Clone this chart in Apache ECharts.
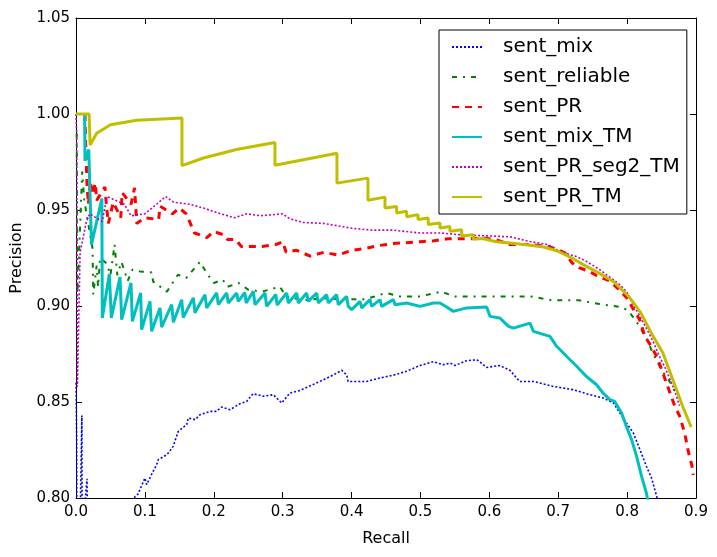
<!DOCTYPE html>
<html>
<head>
<meta charset="utf-8">
<script src="https://cdn.jsdelivr.net/npm/echarts@6/dist/echarts.min.js"></script>
<style>
  html, body { margin: 0; padding: 0; background: #fff; }
  #chart { width: 717px; height: 557px; }
</style>
</head>
<body>
<div id="chart"></div>
<script>
// [recall, precision] pairs
const seriesNames = ['sent_mix', 'sent_reliable', 'sent_PR', 'sent_mix_TM', 'sent_PR_seg2_TM', 'sent_PR_TM']

const sentMix = [
  [0.0, 0.86], [0.001, 0.83], [0.002, 0.70], [0.0085, 0.843], [0.009, 0.78], [0.016, 0.81], [0.017, 0.78],
  [0.05, 0.74], [0.0856, 0.8008], [0.090, 0.802], [0.100, 0.8104], [0.1026, 0.807], [0.112, 0.8139],
  [0.117, 0.8173], [0.1195, 0.82], [0.1316, 0.8225], [0.136, 0.8243], [0.141, 0.8269], [0.1485, 0.8347],
  [0.1607, 0.8382], [0.163, 0.8417], [0.173, 0.8408], [0.180, 0.8434], [0.1945, 0.8451], [0.204, 0.8451],
  [0.2115, 0.8474], [0.2235, 0.846], [0.238, 0.8491], [0.2477, 0.8503], [0.257, 0.8543], [0.272, 0.853],
  [0.2864, 0.8538], [0.2985, 0.8495], [0.3106, 0.8547], [0.325, 0.856], [0.354, 0.8607], [0.373, 0.864],
  [0.386, 0.8665], [0.393, 0.864], [0.395, 0.8607], [0.422, 0.8607], [0.441, 0.8625], [0.461, 0.864],
  [0.480, 0.866], [0.499, 0.869], [0.519, 0.871], [0.533, 0.8694], [0.543, 0.8703], [0.550, 0.869],
  [0.567, 0.8715], [0.582, 0.872], [0.596, 0.868], [0.615, 0.869], [0.630, 0.8665], [0.644, 0.8607],
  [0.664, 0.8607], [0.693, 0.8581], [0.722, 0.8564], [0.746, 0.8538], [0.765, 0.8521], [0.780, 0.8495],
  [0.7895, 0.8443], [0.799, 0.8391], [0.809, 0.8339], [0.8186, 0.8252], [0.828, 0.8165], [0.8355, 0.8104],
  [0.843, 0.8008], [0.848, 0.79]
]

const sentReliable = [
  [0.001, 0.99], [0.002, 0.905], [0.009, 0.97], [0.012, 0.955], [0.024, 0.93], [0.025, 0.906], [0.030, 0.921],
  [0.032, 0.910], [0.035, 0.925], [0.045, 0.922], [0.050, 0.916], [0.056, 0.932], [0.060, 0.916],
  [0.066, 0.923], [0.075, 0.913], [0.082, 0.919], [0.093, 0.918], [0.110, 0.9175], [0.112, 0.9127],
  [0.132, 0.9075], [0.148, 0.9163], [0.16, 0.9146], [0.180, 0.923], [0.19, 0.917], [0.2, 0.912],
  [0.213, 0.9137], [0.220, 0.910], [0.236, 0.912], [0.25, 0.9085], [0.27, 0.9075], [0.296, 0.910],
  [0.305, 0.905], [0.33, 0.903], [0.36, 0.904], [0.39, 0.9035], [0.42, 0.9035], [0.45, 0.9068],
  [0.47, 0.905], [0.5, 0.905], [0.53, 0.9075], [0.55, 0.905], [0.58, 0.905], [0.62, 0.905], [0.66, 0.905],
  [0.69, 0.903], [0.73, 0.903], [0.76, 0.901], [0.79, 0.8995], [0.8, 0.898], [0.806, 0.8955],
  [0.816, 0.8905], [0.829, 0.8825], [0.837, 0.8757], [0.845, 0.870], [0.855, 0.864], [0.862, 0.8606],
  [0.87, 0.855]
]

const sentPR = [
  [0.013, 1.0], [0.014, 0.985], [0.016, 0.963], [0.018, 0.953], [0.021, 0.965], [0.024, 0.958],
  [0.028, 0.964], [0.03, 0.955], [0.042, 0.962], [0.044, 0.953], [0.047, 0.943], [0.054, 0.954],
  [0.065, 0.946], [0.067, 0.959], [0.08, 0.953], [0.085, 0.9615], [0.087, 0.950], [0.088, 0.943],
  [0.1, 0.946], [0.12, 0.945], [0.122, 0.952], [0.14, 0.948], [0.15, 0.951], [0.16, 0.948],
  [0.166, 0.943], [0.172, 0.938], [0.18, 0.937], [0.19, 0.9356], [0.2, 0.9388], [0.215, 0.937],
  [0.22, 0.9346], [0.232, 0.9346], [0.24, 0.931], [0.27, 0.931], [0.29, 0.932], [0.3, 0.9335],
  [0.305, 0.928], [0.32, 0.929], [0.34, 0.926], [0.36, 0.928], [0.38, 0.9265], [0.4, 0.929],
  [0.42, 0.930], [0.44, 0.9315], [0.46, 0.9325], [0.48, 0.933], [0.5, 0.9335], [0.52, 0.934],
  [0.54, 0.935], [0.57, 0.935], [0.59, 0.9355], [0.61, 0.9345], [0.63, 0.932], [0.66, 0.932],
  [0.685, 0.931], [0.70, 0.9294], [0.71, 0.9275], [0.72, 0.9225], [0.73, 0.920], [0.745, 0.918],
  [0.755, 0.916], [0.775, 0.913], [0.79, 0.908], [0.80, 0.904], [0.808, 0.899], [0.818, 0.893],
  [0.826, 0.884], [0.835, 0.879], [0.844, 0.873], [0.852, 0.865], [0.86, 0.857], [0.868, 0.849],
  [0.877, 0.842], [0.884, 0.833], [0.889, 0.824], [0.894, 0.817], [0.896, 0.812]
]

const sentMixTM = [
  [0.0126, 1.0], [0.013, 0.9757], [0.0185, 0.9815], [0.0225, 0.932], [0.0375, 0.956], [0.0382, 0.8938],
  [0.0484, 0.9167], [0.0513, 0.8938], [0.0639, 0.9151], [0.0663, 0.8929], [0.0798, 0.912], [0.0818, 0.892],
  [0.0939, 0.9068], [0.0953, 0.8877], [0.1074, 0.9024], [0.1098, 0.8868], [0.1219, 0.899], [0.1243, 0.889],
  [0.1389, 0.9007], [0.1413, 0.8915], [0.1534, 0.9033], [0.1557, 0.894], [0.1703, 0.9042], [0.1727, 0.8965],
  [0.1872, 0.9059], [0.1897, 0.899], [0.2042, 0.9068], [0.2066, 0.9007], [0.2187, 0.9068], [0.2211, 0.9016],
  [0.2332, 0.9068], [0.2356, 0.9024], [0.245, 0.907], [0.247, 0.9016], [0.2574, 0.9076], [0.2598, 0.9007],
  [0.2743, 0.9068], [0.2768, 0.8998], [0.29, 0.906], [0.292, 0.9005], [0.3058, 0.9068], [0.3082, 0.9016],
  [0.3203, 0.9068], [0.3227, 0.9016], [0.3348, 0.9068], [0.3372, 0.9024], [0.3493, 0.9068], [0.3518, 0.9016],
  [0.3639, 0.9059], [0.3663, 0.9016], [0.3784, 0.9059], [0.3808, 0.9007], [0.3929, 0.905], [0.3953, 0.8998],
  [0.4002, 0.8981], [0.4123, 0.9024], [0.4147, 0.899], [0.4268, 0.9033], [0.4292, 0.8998], [0.4413, 0.9033],
  [0.4437, 0.8998], [0.4607, 0.9033], [0.4631, 0.9007], [0.48, 0.9016], [0.4994, 0.8998], [0.5188, 0.9016],
  [0.5284, 0.9016], [0.538, 0.8995], [0.5477, 0.8972], [0.5671, 0.899], [0.5961, 0.8995], [0.601, 0.8946],
  [0.615, 0.8938], [0.628, 0.8894], [0.635, 0.8885], [0.659, 0.8911], [0.664, 0.8868], [0.688, 0.8842],
  [0.6977, 0.879], [0.712, 0.8738], [0.7267, 0.8686], [0.741, 0.8633], [0.7557, 0.859], [0.765, 0.8547],
  [0.775, 0.8512], [0.782, 0.8503], [0.792, 0.8443], [0.799, 0.8373], [0.8065, 0.8304], [0.8138, 0.8217],
  [0.821, 0.8113], [0.828, 0.8026], [0.832, 0.795]
]

const sentPRSeg2TM = [
  [0.0, 1.0], [0.001, 0.99], [0.002, 0.858], [0.006, 0.928], [0.010, 0.935], [0.015, 0.944], [0.02, 0.948],
  [0.038, 0.944], [0.045, 0.957], [0.07, 0.953], [0.08, 0.947], [0.1, 0.948], [0.117, 0.953], [0.13, 0.957],
  [0.142, 0.954], [0.165, 0.953], [0.185, 0.951], [0.21, 0.948], [0.23, 0.946], [0.248, 0.948],
  [0.268, 0.947], [0.3, 0.948], [0.31, 0.9455], [0.33, 0.9435], [0.36, 0.943], [0.40, 0.9405],
  [0.43, 0.9395], [0.46, 0.9395], [0.5, 0.938], [0.53, 0.938], [0.56, 0.937], [0.6, 0.9365], [0.63, 0.936],
  [0.66, 0.9335], [0.685, 0.932], [0.705, 0.928], [0.727, 0.9257], [0.742, 0.923], [0.76, 0.919],
  [0.775, 0.915], [0.79, 0.911], [0.8, 0.907], [0.81, 0.900], [0.819, 0.8945], [0.83, 0.887], [0.837, 0.882],
  [0.848, 0.873], [0.855, 0.868], [0.862, 0.862], [0.87, 0.855], [0.876, 0.848]
]

const sentPRTM = [
  [0.0, 1.0], [0.019, 1.0], [0.0205, 0.9838], [0.03, 0.990], [0.05, 0.9944], [0.088, 0.9967],
  [0.1538, 0.9979], [0.1538, 0.9731], [0.185, 0.9771], [0.233, 0.9815], [0.2888, 0.9852], [0.2888, 0.9733],
  [0.3788, 0.9796], [0.3788, 0.964], [0.4238, 0.9666], [0.4238, 0.9551], [0.4485, 0.9567], [0.4485, 0.951],
  [0.4655, 0.9518], [0.4655, 0.9484], [0.48, 0.9494], [0.48, 0.9465], [0.4965, 0.9476], [0.4965, 0.945],
  [0.5113, 0.9458], [0.5113, 0.9425], [0.5283, 0.9432], [0.5283, 0.9406], [0.5428, 0.9414], [0.5428, 0.9389],
  [0.5598, 0.9397], [0.5598, 0.9364], [0.5767, 0.9371], [0.5767, 0.9347], [0.59, 0.9352], [0.61, 0.9335],
  [0.63, 0.9328], [0.65, 0.932], [0.679, 0.9307], [0.70, 0.9285], [0.72, 0.925], [0.737, 0.9214],
  [0.76, 0.917], [0.781, 0.9125], [0.803, 0.9047], [0.82, 0.8964], [0.835, 0.886], [0.852, 0.8755],
  [0.868, 0.860], [0.881, 0.8474], [0.893, 0.837]
]

const seriesData = [sentMix, sentReliable, sentPR, sentMixTM, sentPRSeg2TM, sentPRTM]
const seriesColors = ['#0000ff', '#008000', '#ff0000', '#00bfbf', '#bf00bf', '#bfbf00']
const seriesWidths = [1.6, 2, 3, 3, 1.6, 3]
const seriesDash = [[2, 2], [5, 6, 2, 6], [7, 6], 'solid', [2, 2], 'solid']

const font = 'DejaVu Sans'
const chart = echarts.init(document.getElementById('chart'))

const axisBase = {
  axisLine: { show: true, onZero: false, lineStyle: { color: '#000', width: 1 } },
  axisTick: { show: true, inside: true, length: 6, lineStyle: { color: '#000' } },
  splitLine: { show: false },
}

chart.setOption({
  animation: false,
  backgroundColor: '#fff',
  grid: { left: 76, right: 21, top: 18, bottom: 59 },
  legend: {
    orient: 'vertical',
    left: 439,
    top: 30,
    padding: [7, 7, 7, 12],
    itemGap: 10,
    itemWidth: 30,
    itemHeight: 2,
    itemStyle: { opacity: 0 },
    borderColor: '#000',
    borderWidth: 1,
    borderRadius: 0,
    backgroundColor: '#fff',
    data: seriesNames,
    textStyle: { fontFamily: font, fontSize: 20, lineHeight: 20, color: '#000', padding: [0, 0, 0, 16] },
  },
  xAxis: [
    {
      ...axisBase,
      type: 'value', min: 0, max: 0.9, interval: 0.1,
      name: 'Recall', nameLocation: 'middle', nameGap: 33,
      nameTextStyle: { fontFamily: font, fontSize: 16, color: '#000' },
      axisLabel: { fontFamily: font, fontSize: 15, color: '#000', margin: 7, formatter: v => v.toFixed(1) },
    },
    {
      ...axisBase,
      type: 'value', min: 0, max: 0.9, interval: 0.1, position: 'top',
      axisLabel: { show: false },
    },
  ],
  yAxis: [
    {
      ...axisBase,
      type: 'value', min: 0.8, max: 1.05, interval: 0.05,
      name: 'Precision', nameLocation: 'middle', nameGap: 51,
      nameTextStyle: { fontFamily: font, fontSize: 16, color: '#000' },
      axisLabel: { fontFamily: font, fontSize: 15, color: '#000', margin: 6, formatter: v => v.toFixed(2) },
    },
    {
      ...axisBase,
      type: 'value', min: 0.8, max: 1.05, interval: 0.05, position: 'right',
      axisLabel: { show: false },
    },
  ],
  series: seriesNames.map((name, i) => ({
    name: name,
    type: 'line',
    xAxisIndex: 0,
    yAxisIndex: 0,
    data: seriesData[i],
    symbol: 'none',
    clip: true,
    color: seriesColors[i],
    lineStyle: { color: seriesColors[i], width: seriesWidths[i], type: seriesDash[i] },
  })),
})
</script>
</body>
</html>
